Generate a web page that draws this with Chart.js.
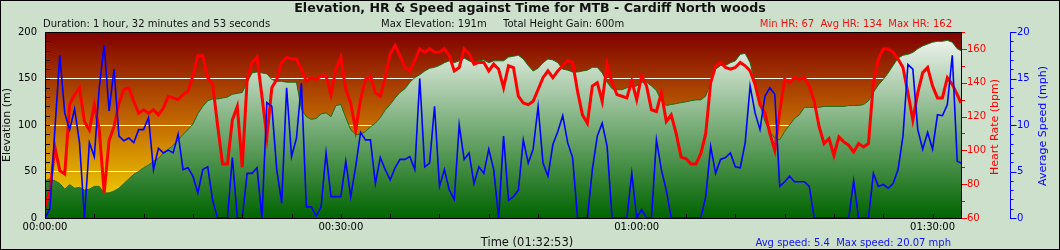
<!DOCTYPE html>
<html>
<head>
<meta charset="utf-8">
<script src="https://cdn.jsdelivr.net/npm/chart.js@4/dist/chart.umd.min.js"></script>
<style>
  html, body { margin: 0; padding: 0; background: #cde0cb; }
  canvas { display: block; }
</style>
</head>
<body>
<canvas id="chart-elevation-hr-speed" width="1060" height="250"></canvas>
<script>
// seconds since start, one sample every 30 s, last one is the end of the ride
var times = [
  0, 30, 60, 90, 120, 150, 180, 210, 240, 270,
  300, 330, 360, 390, 420, 450, 480, 510, 540, 570,
  600, 630, 660, 690, 720, 750, 780, 810, 840, 870,
  900, 930, 960, 990, 1020, 1050, 1080, 1110, 1140, 1170,
  1200, 1230, 1260, 1290, 1320, 1350, 1380, 1410, 1440, 1470,
  1500, 1530, 1560, 1590, 1620, 1650, 1680, 1710, 1740, 1770,
  1800, 1830, 1860, 1890, 1920, 1950, 1980, 2010, 2040, 2070,
  2100, 2130, 2160, 2190, 2220, 2250, 2280, 2310, 2340, 2370,
  2400, 2430, 2460, 2490, 2520, 2550, 2580, 2610, 2640, 2670,
  2700, 2730, 2760, 2790, 2820, 2850, 2880, 2910, 2940, 2970,
  3000, 3030, 3060, 3090, 3120, 3150, 3180, 3210, 3240, 3270,
  3300, 3330, 3360, 3390, 3420, 3450, 3480, 3510, 3540, 3570,
  3600, 3630, 3660, 3690, 3720, 3750, 3780, 3810, 3840, 3870,
  3900, 3930, 3960, 3990, 4020, 4050, 4080, 4110, 4140, 4170,
  4200, 4230, 4260, 4290, 4320, 4350, 4380, 4410, 4440, 4470,
  4500, 4530, 4560, 4590, 4620, 4650, 4680, 4710, 4740, 4770,
  4800, 4830, 4860, 4890, 4920, 4950, 4980, 5010, 5040, 5070,
  5100, 5130, 5160, 5190, 5220, 5250, 5280, 5310, 5340, 5370,
  5400, 5430, 5460, 5490, 5520, 5550, 5573
];

// metres
var elevation = [
  40, 42, 40, 37, 31, 36, 32, 33, 30, 31,
  34, 34, 27, 27, 29, 32, 37, 42, 47, 50,
  54, 57, 61, 64, 70, 74, 78, 84, 90, 95,
  101, 112, 120, 126, 128, 128, 129, 130, 133, 134,
  135, 146, 156, 157, 156, 155, 149, 147, 147, 146,
  146, 146, 117, 109, 106, 107, 112, 113, 109, 121,
  122, 108, 95, 90, 90, 93, 98, 102, 108, 116,
  122, 129, 135, 139, 146, 151, 154, 158, 161, 162,
  164, 167, 169, 167, 169, 172, 169, 167, 169, 170,
  167, 169, 169, 169, 173, 174, 175, 171, 164, 158,
  161, 167, 171, 170, 167, 160, 159, 157, 157, 158,
  159, 162, 162, 156, 146, 139, 138, 138, 140, 141,
  142, 146, 146, 142, 137, 126, 121, 122, 123, 124,
  125, 126, 127, 127, 131, 146, 160, 164, 164, 167,
  169, 176, 177, 167, 146, 122, 104, 93, 86, 84,
  93, 100, 107, 111, 119, 119, 119, 119, 120, 120,
  120, 120, 120, 121, 121, 121, 122, 126, 135, 143,
  149, 156, 164, 172, 175, 176, 178, 182, 185, 187,
  189, 190, 190, 191, 189, 182, 180
];

// bpm
var heartRate = [
  67, 76, 102, 88, 86, 127, 133, 137, 117, 112,
  127, 112, 75, 106, 114, 128, 136, 137, 129, 122,
  124, 122, 124, 121, 125, 132, 131, 130, 133, 135,
  144, 156, 156, 143, 139, 115, 92, 92, 118, 126,
  90, 142, 152, 155, 132, 108, 137, 142, 152, 155,
  154, 154, 148, 141, 143, 142, 144, 144, 133, 148,
  155, 136, 128, 112, 130, 142, 144, 134, 132, 143,
  157, 162, 156, 149, 147, 153, 160, 158, 160, 158,
  158, 160, 156, 147, 149, 160, 157, 151, 152, 152,
  147, 151, 148, 137, 150, 149, 132, 128, 127, 129,
  136, 143, 147, 143, 147, 150, 153, 152, 135, 121,
  116, 138, 140, 129, 151, 140, 133, 132, 131, 141,
  130, 144, 138, 124, 123, 134, 117, 121, 110, 96,
  95, 92, 92, 98, 110, 140, 150, 152, 149, 148,
  149, 152, 150, 147, 139, 127, 122, 110, 100, 123,
  142, 140, 143, 142, 143, 138, 129, 114, 104, 107,
  97, 108, 105, 103, 99, 104, 102, 104, 140, 154,
  160, 160, 158, 154, 149, 134, 118, 134, 146, 149,
  138, 131, 131, 143, 139, 133, 128
];

// mph
var speed = [
  0, 1, 9.5, 17.5, 11.3, 9.5, 11.7, 8.1, 0, 8.1,
  6.6, 14, 18.6, 11.5, 16, 8.8, 8.3, 8.6, 8.1, 9.5,
  9.5, 10.8, 5.2, 7.5, 7, 7.3, 7, 9, 5.2, 5.4,
  4.5, 2.7, 5.2, 5.5, 1.9, 0, 0, 0, 6.5, 0,
  0, 4.8, 4.8, 5.4, 0, 12.4, 12, 5.2, 1.6, 14,
  6.6, 8.6, 14.5, 1.2, 1.2, 0.2, 1.2, 7, 2.3, 2.3,
  2.3, 6.1, 2.3, 5.5, 9.2, 8.4, 8.4, 3.7, 6.5, 5.2,
  4.1, 5.4, 6.3, 6.3, 6.6, 5.2, 15, 5.5, 5.9, 12,
  3.4, 5.2, 3, 2, 10, 6.3, 7, 3.7, 5.5, 4.8,
  7.4, 5.2, 0, 8.8, 1.9, 2.3, 3, 8.4, 5.9, 7.4,
  12, 5.9, 4.5, 7.9, 9.3, 11, 8.1, 6.5, 0, 0,
  0, 5.2, 8.8, 10.2, 7.7, 0, 0, 0, 0, 4.8,
  0, 0.9, 0, 0, 8.4, 5.2, 3, 0, 0, 0,
  0, 0, 0, 0, 2.3, 7.7, 4.8, 6.3, 6.5, 7,
  5.5, 5.4, 8.1, 14.2, 11.3, 9.5, 13.1, 14, 13.3, 3.4,
  3.9, 4.5, 3.9, 3.9, 3.9, 3.4, 0, 0, 0, 0,
  0, 0, 0, 0, 4, 0, 0, 0, 4.8, 3.4,
  3.6, 3.2, 3.7, 5.2, 8.8, 16.5, 16, 9.5, 7.4, 9.2,
  7.4, 11.1, 11, 12.2, 17.5, 6.1, 5.9
];

var timeTicks = [0, 1800, 3600, 5400];
var timeTickLabels = ['00:00:00', '00:30:00', '01:00:00', '01:30:00'];

function points(values) {
  return times.map(function (t, i) { return { x: t, y: values[i] }; });
}

function vGradient(chart, top, bottom) {
  var a = chart.chartArea;
  var g = chart.ctx.createLinearGradient(0, a.top, 0, a.bottom);
  g.addColorStop(0, top);
  g.addColorStop(1, bottom);
  return g;
}

var FONT = '"DejaVu Sans", Verdana, sans-serif';
Chart.defaults.font.family = FONT;
Chart.defaults.font.size = 10;
Chart.defaults.color = '#000';

var decorations = {
  id: 'decorations',
  beforeDraw: function (chart) {
    var ctx = chart.ctx, a = chart.chartArea;
    ctx.save();
    ctx.fillStyle = '#cde0cb';
    ctx.fillRect(0, 0, chart.width, chart.height);
    var g = ctx.createLinearGradient(0, a.top, 0, a.bottom);
    g.addColorStop(0, '#800000');
    g.addColorStop(0.5, '#c46c00');
    g.addColorStop(1, '#f8e400');
    ctx.fillStyle = g;
    ctx.fillRect(a.left, a.top, a.right - a.left, a.bottom - a.top);
    ctx.restore();
  },
  afterDraw: function (chart) {
    var ctx = chart.ctx, a = chart.chartArea, s = chart.scales;
    var v, p;
    ctx.save();
    ctx.lineWidth = 1;

    // inner ticks on the elevation and time axes
    ctx.strokeStyle = '#000';
    ctx.beginPath();
    for (v = 0; v <= 200; v += 10) {
      p = Math.round(s.y.getPixelForValue(v)) + 0.5;
      ctx.moveTo(a.left, p); ctx.lineTo(a.left + 5, p);
    }
    for (v = 300; v < 5573; v += 300) {
      p = Math.round(s.x.getPixelForValue(v)) + 0.5;
      ctx.moveTo(p, a.bottom); ctx.lineTo(p, a.bottom - 4);
    }
    ctx.stroke();

    // plot frame and outer border
    ctx.strokeRect(a.left + 0.5, a.top + 0.5, a.right - a.left, a.bottom - a.top);
    ctx.strokeRect(0.5, 0.5, chart.width - 1, chart.height - 1);

    // heart rate ticks
    ctx.strokeStyle = '#f00';
    ctx.beginPath();
    for (v = 60; v <= 170; v += 10) {
      p = Math.round(s.y1.getPixelForValue(v)) + 0.5;
      ctx.moveTo(a.right + 1, p); ctx.lineTo(a.right + (v % 20 === 0 ? 6 : 4), p);
    }
    ctx.stroke();

    // speed axis line and ticks
    var sx = s.y2.left + 0.5;
    ctx.strokeStyle = '#00f';
    ctx.beginPath();
    ctx.moveTo(sx, a.top); ctx.lineTo(sx, a.bottom + 1);
    for (v = 0; v <= 20; v += 1) {
      p = Math.round(s.y2.getPixelForValue(v)) + 0.5;
      ctx.moveTo(sx, p); ctx.lineTo(sx + (v % 5 === 0 ? 6 : 3), p);
    }
    ctx.stroke();

    // titles and summary texts
    ctx.textBaseline = 'alphabetic';
    ctx.fillStyle = '#111';
    ctx.font = 'bold 12.6px ' + FONT;
    ctx.textAlign = 'center';
    ctx.fillText('Elevation, HR & Speed against Time for MTB - Cardiff North woods', 530, 12);

    ctx.font = '10px ' + FONT;
    ctx.textAlign = 'left';
    ctx.fillText('Duration: 1 hour, 32 minutes and 53 seconds', 43, 27);
    ctx.fillText('Max Elevation: 191m', 381, 27);
    ctx.fillText('Total Height Gain: 600m', 503, 27);
    ctx.textAlign = 'right';
    ctx.fillStyle = '#ee1111';
    ctx.fillText('Min HR: 67  Avg HR: 134  Max HR: 162', 952, 27);
    ctx.fillStyle = '#1111ee';
    ctx.fillText('Avg speed: 5.4  Max speed: 20.07 mph', 951, 246);

    ctx.fillStyle = '#111';
    ctx.textAlign = 'center';
    ctx.font = '11.5px ' + FONT;
    ctx.fillText('Time (01:32:53)', 527, 246);

    ctx.font = '11px ' + FONT;
    function vText(text, x, y, color) {
      ctx.save();
      ctx.translate(x, y);
      ctx.rotate(-Math.PI / 2);
      ctx.fillStyle = color;
      ctx.fillText(text, 0, 0);
      ctx.restore();
    }
    vText('Elevation (m)', 10, 125, '#111');
    vText('Heart Rate (bpm)', 998, 127, '#f00');
    vText('Average Speed (mph)', 1046, 126, '#00f');

    ctx.restore();
  }
};

var ctx = document.getElementById('chart-elevation-hr-speed').getContext('2d');

var chart = new Chart(ctx, {
  type: 'line',
  data: {
    datasets: [{
      label: 'Speed',
      data: points(speed),
      yAxisID: 'y2',
      borderColor: '#0000ff',
      borderWidth: 1.6,
      pointRadius: 0,
      fill: false,
      order: 0
    }, {
      label: 'Heart rate',
      data: points(heartRate),
      yAxisID: 'y1',
      borderColor: '#ff0000',
      borderWidth: 3,
      pointRadius: 0,
      fill: false,
      order: 1
    }, {
      label: 'Elevation',
      data: points(elevation),
      yAxisID: 'y',
      borderColor: '#1a6e1a',
      borderWidth: 1,
      pointRadius: 0,
      fill: 'origin',
      backgroundColor: function (c) {
        if (!c.chart.chartArea) return 'rgba(0,0,0,0)';
        return vGradient(c.chart, '#f6f9f6', '#006400');
      },
      order: 2
    }]
  },
  options: {
    responsive: false,
    devicePixelRatio: 1,
    animation: false,
    events: [],
    layout: { padding: { top: 32, left: 0, right: 0, bottom: 0 } },
    plugins: {
      legend: { display: false },
      tooltip: { enabled: false },
      title: { display: false }
    },
    scales: {
      x: {
        type: 'linear',
        min: 0,
        max: 5573,
        afterBuildTicks: function (scale) {
          scale.ticks = timeTicks.map(function (t) { return { value: t }; });
        },
        afterFit: function (scale) { scale.height = 32; },
        grid: { display: false, drawTicks: false },
        border: { display: false },
        ticks: {
          padding: 3,
          maxRotation: 0,
          autoSkip: false,
          color: '#000',
          callback: function (value, index) { return timeTickLabels[index]; }
        }
      },
      y: {
        position: 'left',
        min: 0,
        max: 200,
        afterFit: function (scale) { scale.width = 45; },
        grid: {
          drawTicks: false,
          lineWidth: 1,
          color: function (c) {
            var v = c.tick && c.tick.value;
            return (v > 0 && v < 200) ? '#fff6ee' : 'rgba(0,0,0,0)';
          }
        },
        border: { display: false },
        ticks: { stepSize: 50, padding: 8, color: '#000' }
      },
      y1: {
        position: 'right',
        weight: 0,
        min: 60,
        max: 170,
        afterFit: function (scale) { scale.width = 49; },
        grid: { display: false, drawTicks: false },
        border: { display: false },
        ticks: { stepSize: 20, includeBounds: false, padding: 6, color: '#f00' }
      },
      y2: {
        position: 'right',
        weight: 1,
        min: 0,
        max: 20,
        afterFit: function (scale) { scale.width = 50; },
        grid: { display: false, drawTicks: false },
        border: { display: false },
        ticks: { stepSize: 5, padding: 7, color: '#00f' }
      }
    }
  },
  plugins: [decorations]
});
</script>
</body>
</html>
